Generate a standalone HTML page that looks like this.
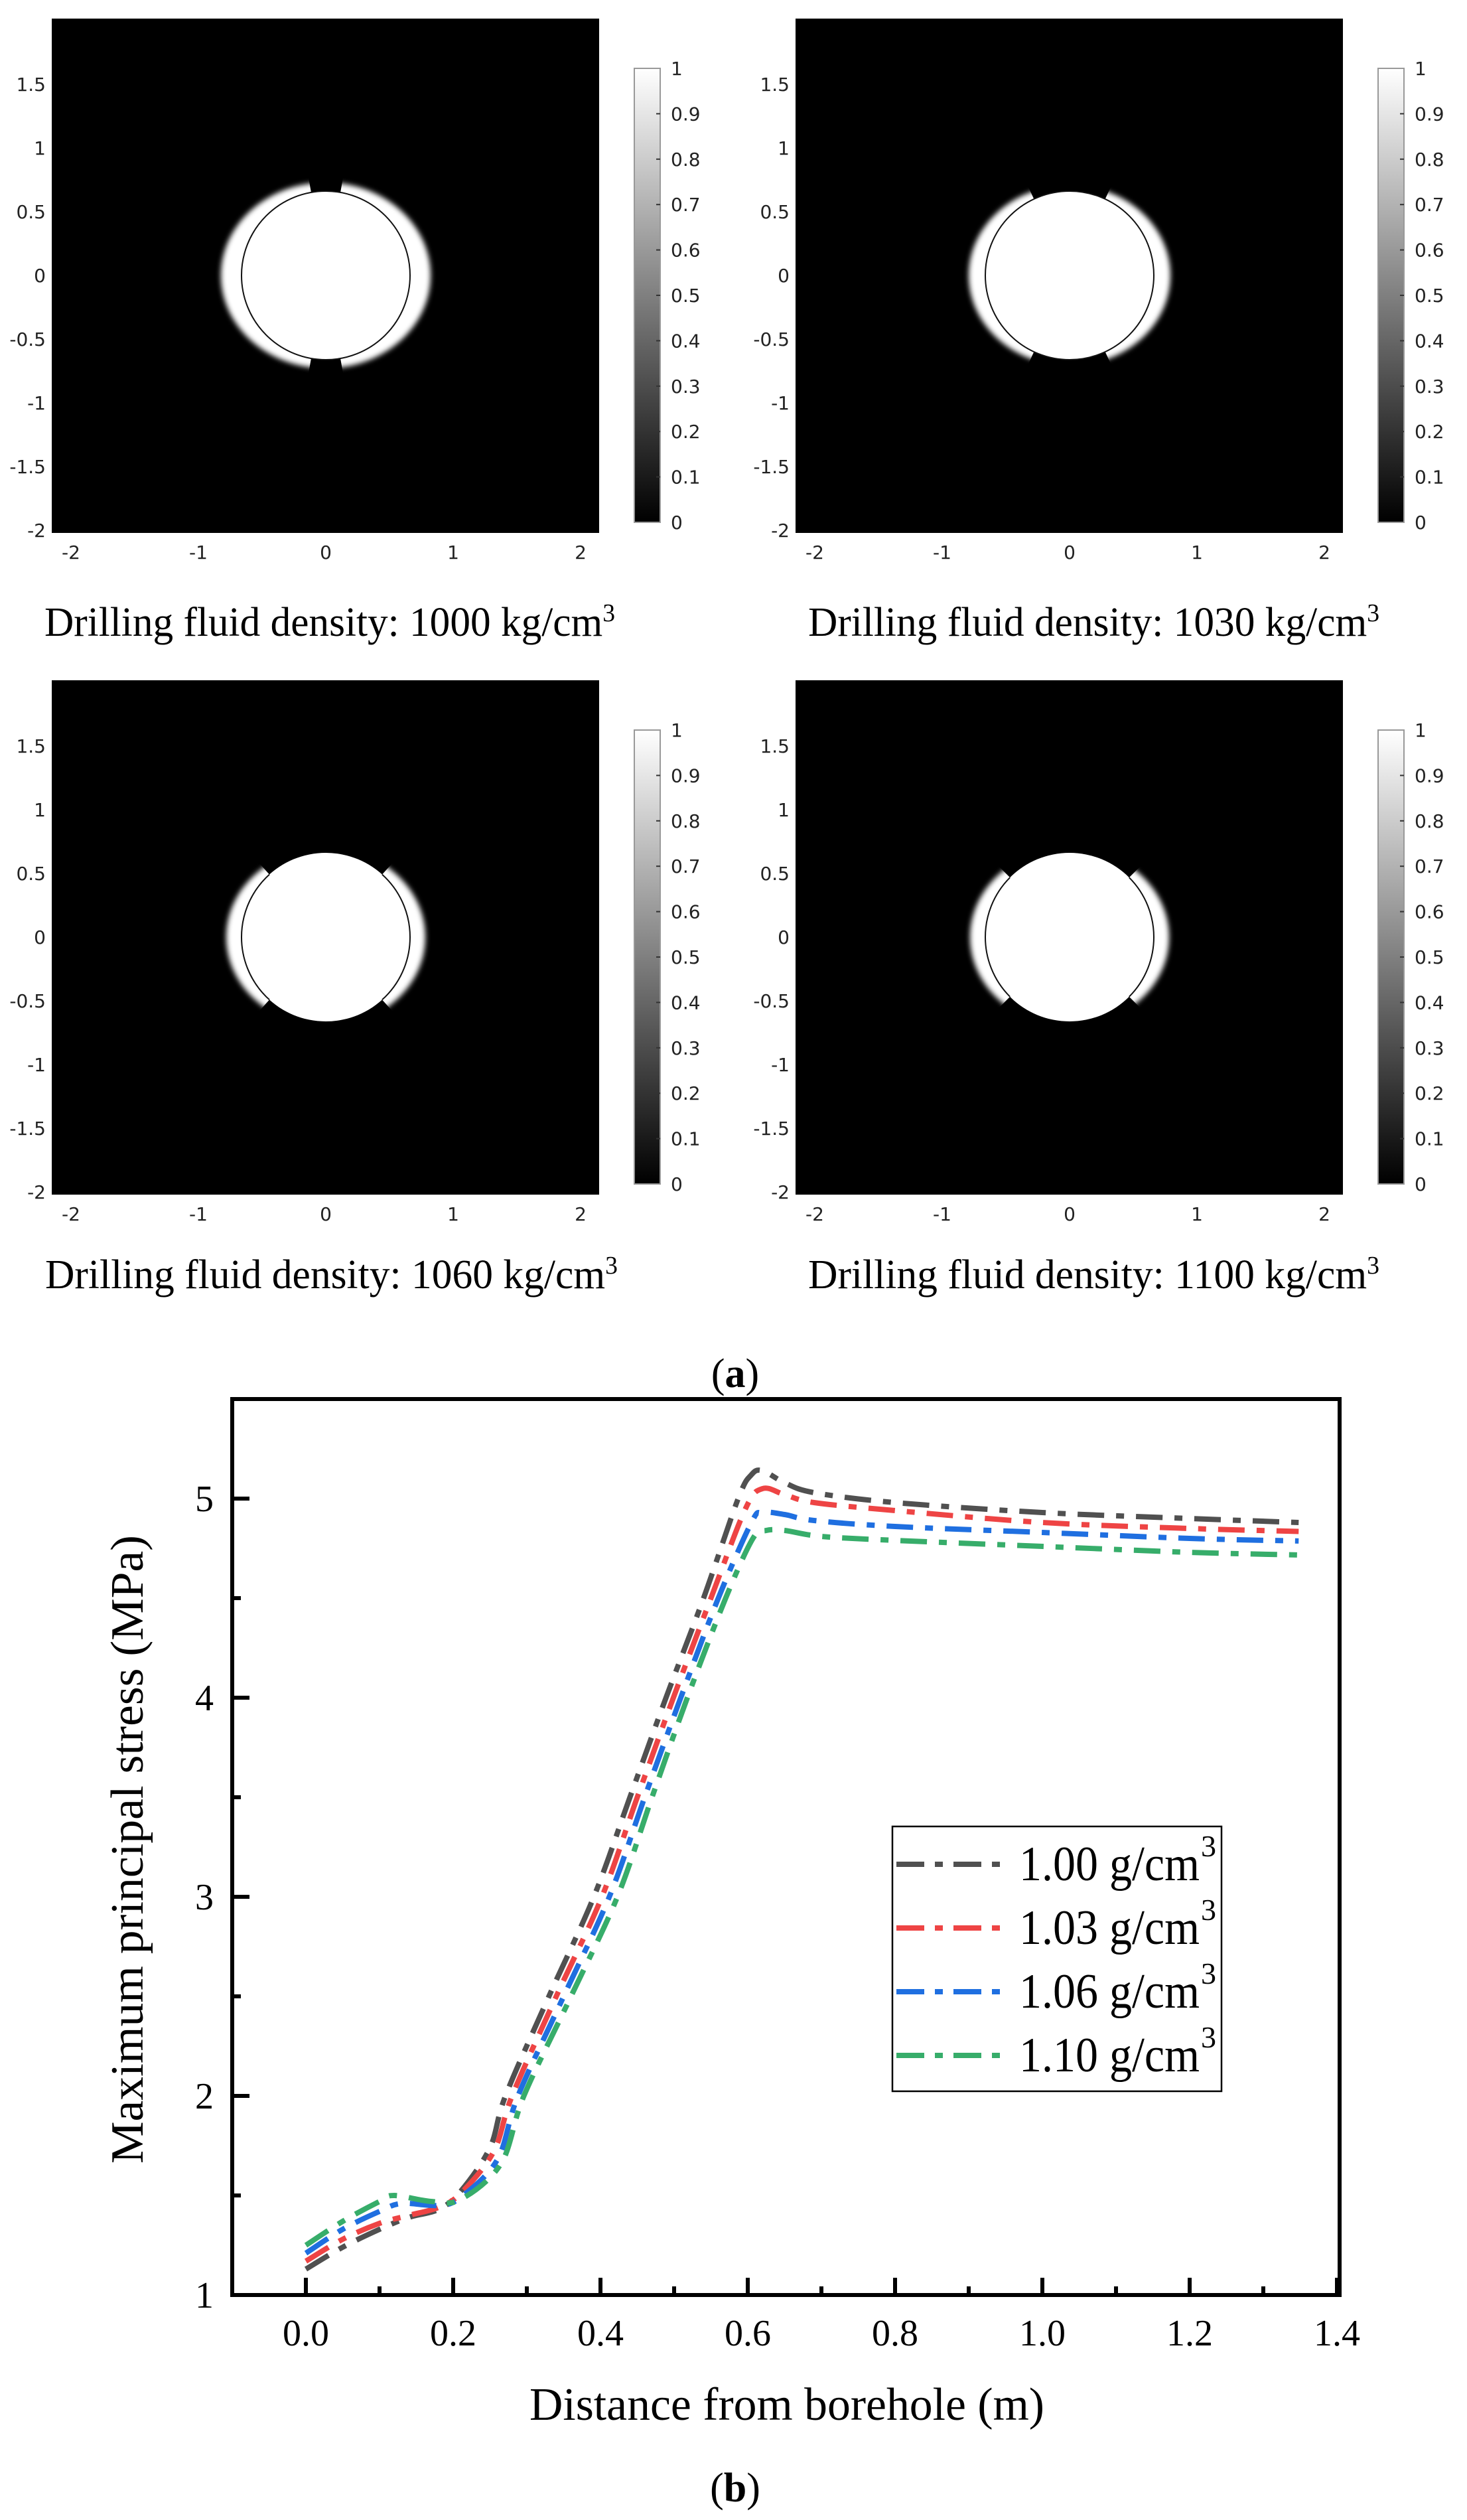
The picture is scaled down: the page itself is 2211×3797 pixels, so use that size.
<!DOCTYPE html>
<html><head><meta charset="utf-8"><style>
html,body{margin:0;padding:0;background:#fff;}
svg{display:block;}
.tk{font-family:"DejaVu Sans",sans-serif;font-size:28px;fill:#222;}
.cap{font-family:"Liberation Serif",serif;font-size:62px;fill:#000;}
.ax{font-family:"Liberation Serif",serif;fill:#000;}
</style></head><body>
<svg id="s" width="2211" height="3797" viewBox="0 0 2211 3797" xmlns="http://www.w3.org/2000/svg">
<defs>
<filter id="bl" x="-20%" y="-20%" width="140%" height="140%"><feGaussianBlur stdDeviation="4"/></filter>
<linearGradient id="cb" x1="0" y1="0" x2="0" y2="1"><stop offset="0" stop-color="#fff"/><stop offset="1" stop-color="#000"/></linearGradient>
</defs>
<g id="panels"></g>
<text class="cap" x="67" y="958" textLength="860" lengthAdjust="spacingAndGlyphs">Drilling fluid density: 1000 kg/cm<tspan font-size="38" dy="-22">3</tspan></text>
<text class="cap" x="1218" y="958" textLength="861" lengthAdjust="spacingAndGlyphs">Drilling fluid density: 1030 kg/cm<tspan font-size="38" dy="-22">3</tspan></text>
<text class="cap" x="68" y="1941" textLength="863" lengthAdjust="spacingAndGlyphs">Drilling fluid density: 1060 kg/cm<tspan font-size="38" dy="-22">3</tspan></text>
<text class="cap" x="1218" y="1941" textLength="861" lengthAdjust="spacingAndGlyphs">Drilling fluid density: 1100 kg/cm<tspan font-size="38" dy="-22">3</tspan></text>
<text class="cap" x="1108" y="2090" text-anchor="middle">(<tspan font-weight="bold">a</tspan>)</text>
<text class="cap" x="1108" y="3769" text-anchor="middle">(<tspan font-weight="bold">b</tspan>)</text>
<g id="chart"></g>
</svg>
<script>
var NS="http://www.w3.org/2000/svg";
function el(p,t,a,txt){var e=document.createElementNS(NS,t);for(var k in a)e.setAttribute(k,a[k]);if(txt!==undefined)e.textContent=txt;p.appendChild(e);return e;}
var P=document.getElementById('panels');
var cfg=[[78,28,80,158,140,true],[1199,28,65,152,136,true],[78,1025,48,150,134,false],[1199,1025,45,150,134,false]];
cfg.forEach(function(c,i){
 var px=c[0],py=c[1],ang=c[2]*Math.PI/180,rx=c[3],ry=c[4],full=c[5];
 var cx=px+413,cy=py+387;
 el(P,'rect',{x:px,y:py,width:825,height:775,fill:'#000'});
 var L=400,t=Math.tan(ang);
 var d='M'+cx+' '+cy+' L'+(cx+L)+' '+(cy-L*t)+' L'+(cx+L)+' '+(cy+L*t)+' Z M'+cx+' '+cy+' L'+(cx-L)+' '+(cy-L*t)+' L'+(cx-L)+' '+(cy+L*t)+' Z';
 var cp=el(P,'clipPath',{id:'cp'+i});el(cp,'path',{d:d});
 var g=el(P,'g',{'clip-path':'url(#cp'+i+')'});
 el(g,'ellipse',{cx:cx,cy:cy,rx:rx,ry:ry,fill:'#fff',filter:'url(#bl)'});
 el(P,'circle',{cx:cx,cy:cy,r:127,fill:'#fff'});
 if(full) el(P,'circle',{cx:cx,cy:cy,r:127,fill:'none',stroke:'#111','stroke-width':2});
 else {var g2=el(P,'g',{'clip-path':'url(#cp'+i+')'});el(g2,'circle',{cx:cx,cy:cy,r:127,fill:'none',stroke:'#111','stroke-width':2});}
 [1.5,1,0.5,0,-0.5,-1,-1.5,-2].forEach(function(v){el(P,'text',{'class':'tk',x:px-9,y:cy-v*192+10,'text-anchor':'end'},String(v));});
 [-2,-1,0,1,2].forEach(function(v){el(P,'text',{'class':'tk',x:cx+v*192,y:py+814,'text-anchor':'middle'},String(v));});
 var bx=px+878,by=py+75;
 el(P,'rect',{x:bx,y:by,width:39,height:684,fill:'url(#cb)',stroke:'#999','stroke-width':2});
 for(var k=0;k<=10;k++){var yy=by+684*k/10;
  if(k>0&&k<10)el(P,'line',{x1:bx+33,x2:bx+39,y1:yy,y2:yy,stroke:'#333','stroke-width':2});
  var v=(10-k)/10;el(P,'text',{'class':'tk',x:bx+55,y:yy+10},k==0?'1':k==10?'0':v.toFixed(1));}
});
var C=document.getElementById('chart');
var X0=461,XU=1110,YB=3458,YU=300;
function X(x){return X0+x*XU;}function Y(y){return YB-(y-1)*YU;}
var L=350,R=2019,T=Y(5.5),B=YB;
el(C,'rect',{x:L,y:T,width:R-L,height:B-T,fill:'none',stroke:'#000','stroke-width':6});
for(var x=0;x<=1.4001;x+=0.1){var maj=Math.round(x*10)%2==0;var xx=X(x);
 el(C,'line',{x1:xx,x2:xx,y1:B,y2:B-(maj?26:13),stroke:'#000','stroke-width':6});
 if(maj)el(C,'text',{'class':'ax',style:'font-size:56px',x:xx,y:3534,'text-anchor':'middle'},x.toFixed(1));}
for(var y=1;y<=5.001;y+=0.5){var maj=Math.abs(y-Math.round(y))<0.01;var yy=Y(y);
 el(C,'line',{x1:L,x2:L+(maj?26:13),y1:yy,y2:yy,stroke:'#000','stroke-width':6});
 if(maj)el(C,'text',{'class':'ax',style:'font-size:56px',x:322,y:yy+19,'text-anchor':'end'},String(Math.round(y)));}
el(C,'text',{'class':'ax',style:'font-size:70px',x:798,y:3646,textLength:776,lengthAdjust:'spacingAndGlyphs'},'Distance from borehole (m)');
el(C,'text',{'class':'ax',style:'font-size:70px',x:0,y:0,textLength:947,lengthAdjust:'spacingAndGlyphs',transform:'translate(215,3260) rotate(-90)'},'Maximum principal stress  (MPa)');
var S=[
 ['#505050',[[0,1.13],[0.05,1.24],[0.1,1.33],[0.14,1.39],[0.18,1.43],[0.21,1.52],[0.25,1.74],[0.271,2.0],[0.33,2.5],[0.391,3.0],[0.44,3.5],[0.489,4.0],[0.54,4.5],[0.587,5.0],[0.605,5.12],[0.62,5.14],[0.65,5.08],[0.69,5.03],[0.8,4.98],[1.0,4.93],[1.2,4.9],[1.348,4.88]]],
 ['#ee4444',[[0,1.17],[0.05,1.28],[0.1,1.36],[0.14,1.40],[0.18,1.44],[0.21,1.51],[0.255,1.72],[0.28,2.0],[0.34,2.5],[0.402,3.0],[0.45,3.5],[0.499,4.0],[0.55,4.5],[0.597,4.95],[0.62,5.05],[0.65,5.02],[0.69,4.98],[0.8,4.94],[1.0,4.88],[1.2,4.85],[1.348,4.835]]],
 ['#1f6fe0',[[0,1.21],[0.05,1.33],[0.1,1.42],[0.13,1.46],[0.18,1.45],[0.21,1.49],[0.26,1.68],[0.288,2.0],[0.35,2.5],[0.412,3.0],[0.46,3.5],[0.509,4.0],[0.56,4.5],[0.605,4.88],[0.62,4.93],[0.65,4.92],[0.69,4.89],[0.8,4.86],[1.0,4.83],[1.2,4.8],[1.348,4.787]]],
 ['#37ad6a',[[0,1.25],[0.05,1.37],[0.1,1.47],[0.12,1.50],[0.17,1.47],[0.21,1.48],[0.265,1.66],[0.296,2.0],[0.36,2.5],[0.423,3.0],[0.47,3.5],[0.518,4.0],[0.57,4.5],[0.607,4.8],[0.625,4.84],[0.65,4.84],[0.7,4.81],[0.8,4.79],[1.0,4.76],[1.2,4.73],[1.348,4.717]]]
];
function path(pts){var p=pts.map(function(a){return [X(a[0]),Y(a[1])];});var d='M'+p[0][0]+' '+p[0][1];
 for(var i=0;i<p.length-1;i++){var p0=p[i-1]||p[i],p1=p[i],p2=p[i+1],p3=p[i+2]||p2;
  d+=' C'+(p1[0]+(p2[0]-p0[0])/6)+' '+(p1[1]+(p2[1]-p0[1])/6)+' '+(p2[0]-(p3[0]-p1[0])/6)+' '+(p2[1]-(p3[1]-p1[1])/6)+' '+p2[0]+' '+p2[1];}
 return d;}
S.forEach(function(s){el(C,'path',{d:path(s[1]),fill:'none',stroke:s[0],'stroke-width':8,'stroke-dasharray':'40 18 12 18'});});
el(C,'rect',{x:1345,y:2752,width:496,height:399,fill:'#fff',stroke:'#000','stroke-width':2.5});
var lab=['1.00','1.03','1.06','1.10'];
S.forEach(function(s,i){var yy=2809+i*96;
 el(C,'line',{x1:1351,x2:1507,y1:yy,y2:yy,stroke:s[0],'stroke-width':8,'stroke-dasharray':'42 16 12 16'});
 var t=el(C,'text',{'class':'ax',style:'font-size:74px',x:1536,y:yy+24,textLength:272,lengthAdjust:'spacingAndGlyphs'},lab[i]+' g/cm');
 el(C,'text',{'class':'ax',style:'font-size:46px',x:1810,y:yy-12},'3');});
</script>
</body></html>
